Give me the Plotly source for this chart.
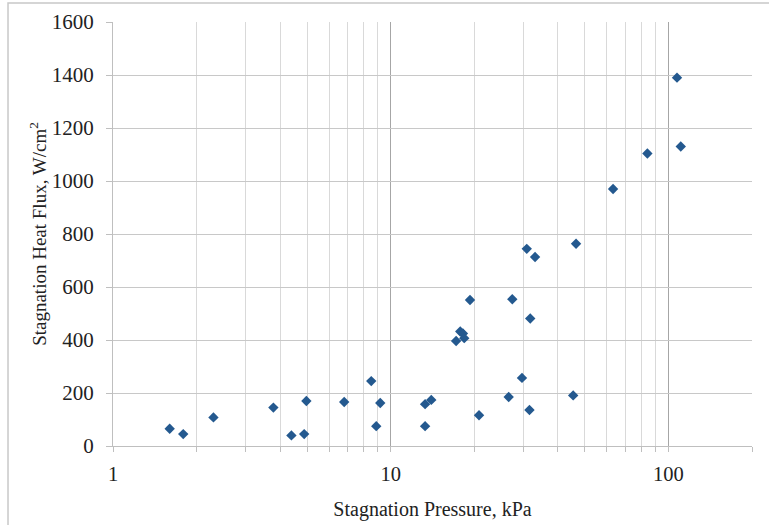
import plotly.graph_objects as go

pressure_kpa = [1.60, 1.79, 2.30, 3.78, 4.39, 4.88, 4.97, 6.80, 8.51, 8.87, 9.17,
                13.3, 13.3, 14.0, 17.2, 17.8, 18.2, 18.4, 19.3, 20.8, 26.6, 27.4,
                29.7, 30.9, 31.8, 31.6, 33.1, 45.4, 46.5, 63.2, 84.0, 107.4, 110.8]
heat_flux = [65, 45, 108, 145, 40, 45, 170, 166, 245, 75, 162,
             158, 75, 174, 396, 432, 425, 407, 551, 116, 185, 554,
             257, 744, 481, 136, 713, 191, 763, 970, 1104, 1390, 1130]

y_ticks = [0, 200, 400, 600, 800, 1000, 1200, 1400, 1600]
x_major = [1, 10, 100]
x_minor = [2, 3, 4, 5, 6, 7, 8, 9, 20, 30, 40, 50, 60, 70, 80, 90, 200]

FAM = "Liberation Serif"

fig = go.Figure()
fig.add_trace(go.Scatter(
    x=pressure_kpa, y=heat_flux, mode="markers",
    marker=dict(symbol="diamond", size=8, color="#24598F",
                line=dict(width=0)),
    showlegend=False,
))

fig.update_layout(
    width=769, height=525,
    margin=dict(l=113, r=17, t=22, b=79),
    paper_bgcolor="white", plot_bgcolor="white",
    font=dict(family=FAM, size=20, color="#222222"),
    xaxis=dict(
        type="log", range=[0, 2.30103], automargin=False,
        tickmode="array", tickvals=x_major, ticktext=["1", "10", "100"],
        showgrid=True, gridcolor="#a6a6a6", gridwidth=1,
        ticks="outside", ticklen=5, tickcolor="#bfbfbf",
        showline=True, linecolor="#bfbfbf", linewidth=1,
        zeroline=False, ticklabelstandoff=4,
        tickfont=dict(family=FAM, size=20.5, color="#222222"),
        minor=dict(tickmode="array", tickvals=x_minor, showgrid=True,
                   gridcolor="#d9d9d9", gridwidth=1, ticks="outside",
                   ticklen=5, tickcolor="#bfbfbf"),
        title=dict(text="Stagnation Pressure, kPa",
                   font=dict(family=FAM, size=20, color="#222222"),
                   standoff=18),
    ),
    yaxis=dict(
        range=[0, 1600], tickmode="array", tickvals=y_ticks, automargin=False,
        showgrid=True, gridcolor="#c8c8c8", gridwidth=1,
        ticks="outside", ticklen=6, tickcolor="#bfbfbf",
        showline=True, linecolor="#bfbfbf", linewidth=1,
        zeroline=False, ticklabelstandoff=8,
        tickfont=dict(family=FAM, size=21, color="#222222"),
        title=dict(text="Stagnation Heat Flux, W/cm<sup>2</sup>",
                   font=dict(family=FAM, size=19, color="#222222"),
                   standoff=0),
    ),
    shapes=[dict(type="rect", xref="paper", yref="paper",
                 x0=-0.1643, x1=1.2, y0=-0.4, y1=1.045,
                 line=dict(color="#c8c8c8", width=1.5), layer="below")],
)

fig.write_html("out.html")
